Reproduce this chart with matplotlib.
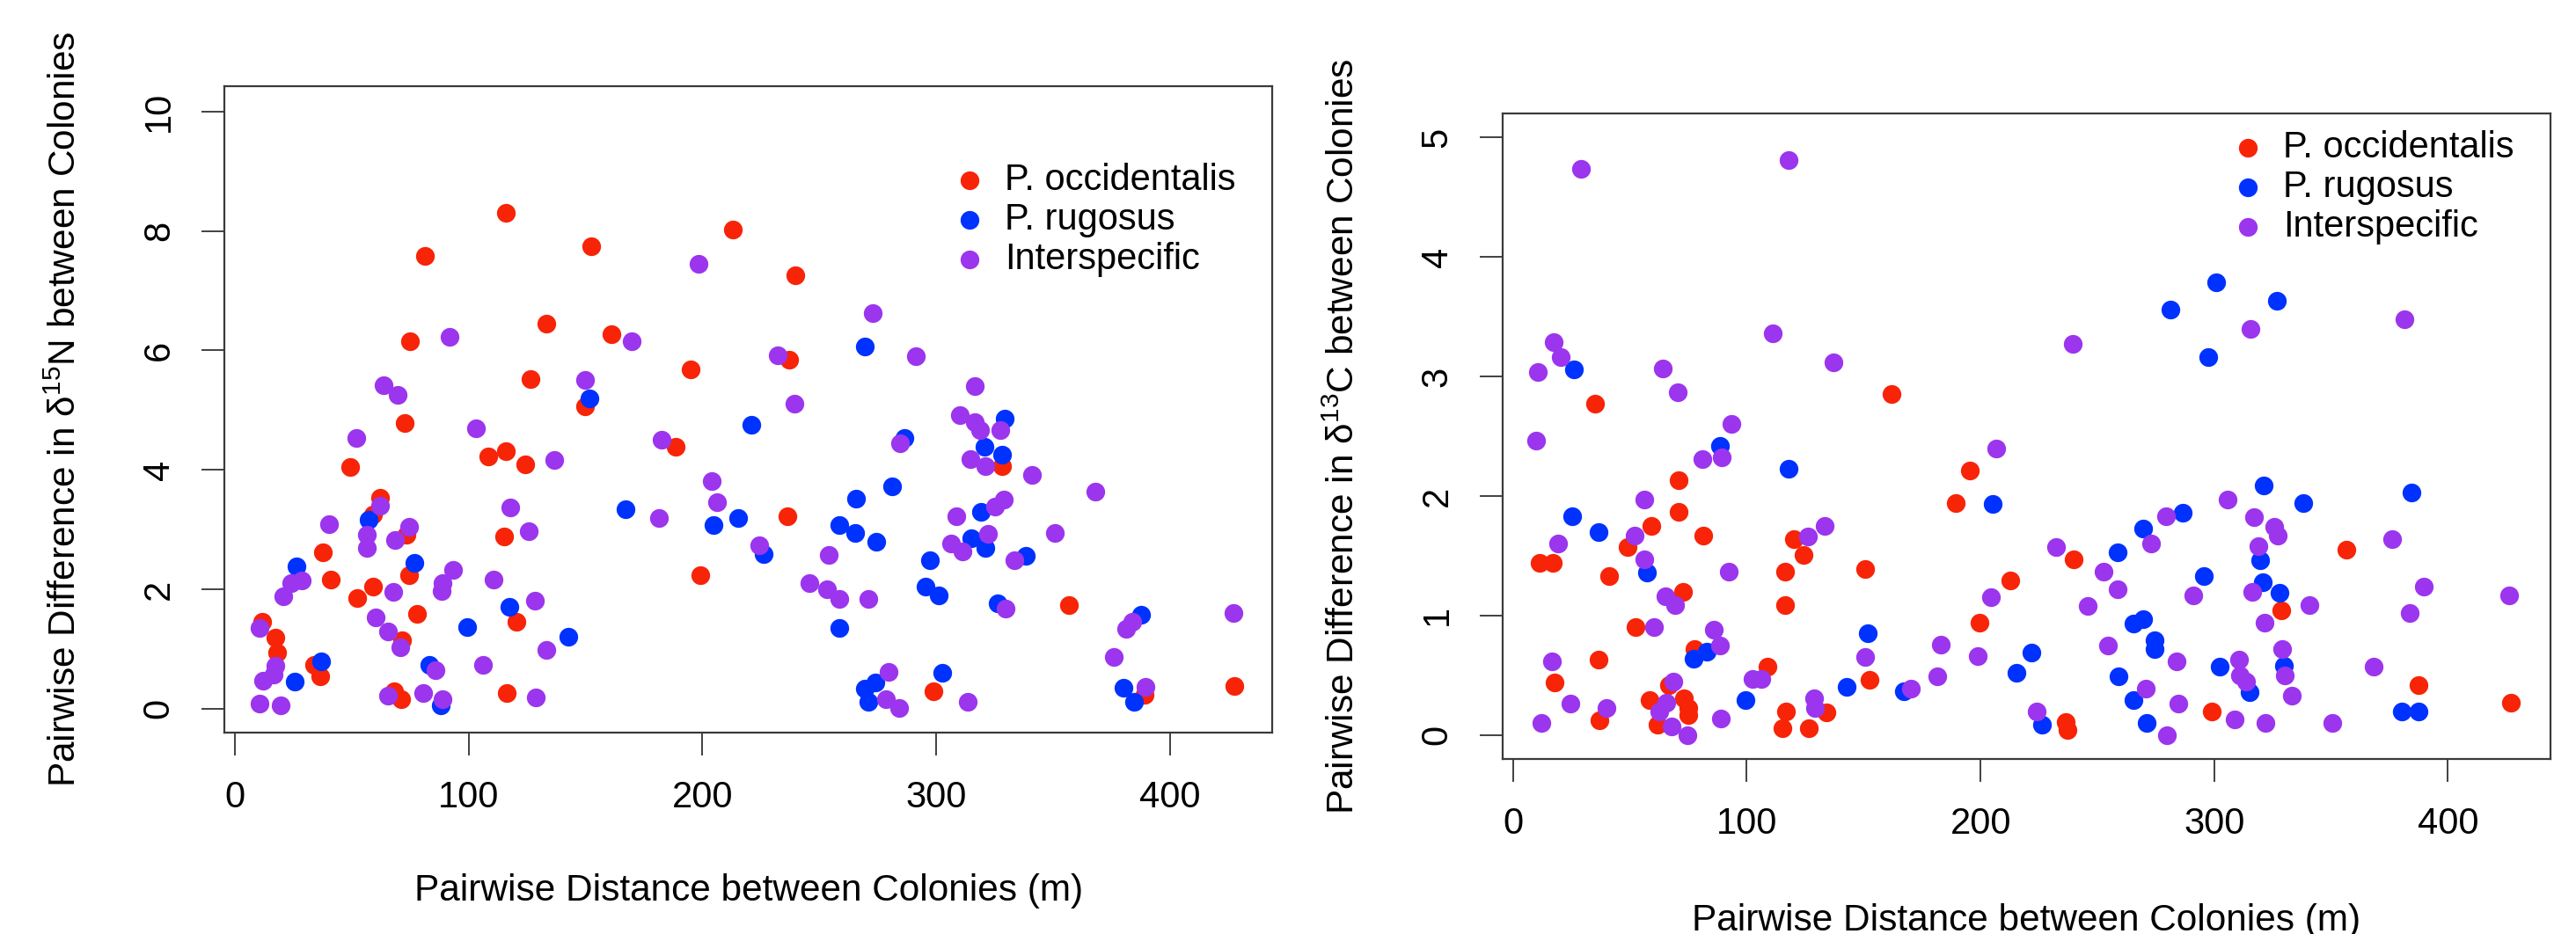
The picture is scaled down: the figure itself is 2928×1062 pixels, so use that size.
import matplotlib
matplotlib.use("Agg")
import matplotlib.pyplot as plt

plt.rcParams['font.family'] = ['Liberation Sans', 'DejaVu Sans']
plt.rcParams['mathtext.fontset'] = 'custom'
plt.rcParams['mathtext.rm'] = 'Liberation Sans'
plt.rcParams['mathtext.it'] = 'Liberation Sans'

# ---- delta 15N panel ----
n_occ_dist = [116.0, 81.3, 152.4, 212.9, 74.9, 133.4, 161.3, 195.1, 126.4, 150.0, 72.7, 108.4, 115.8,
              124.2, 49.4, 188.7, 62.3, 59.0, 73.6, 115.1, 37.5, 74.6, 41.2, 59.0, 52.3, 78.1, 120.4,
              71.4, 11.7, 17.4, 18.1, 33.8, 36.7, 116.3, 68.0, 71.2, 199.1, 239.9, 237.3, 328.4,
              236.4, 357.0, 299.1, 389.1, 427.5]
n_occ_diff = [8.31, 7.58, 7.75, 8.02, 6.15, 6.45, 6.27, 5.69, 5.52, 5.06, 4.79, 4.22, 4.32,
              4.09, 4.05, 4.39, 3.53, 3.26, 2.91, 2.89, 2.62, 2.23, 2.16, 2.05, 1.86, 1.59, 1.46,
              1.14, 1.46, 1.19, 0.94, 0.73, 0.55, 0.26, 0.30, 0.16, 2.23, 7.26, 5.84, 4.07,
              3.22, 1.74, 0.29, 0.23, 0.38]

n_rug_dist = [151.7, 220.8, 167.3, 204.8, 215.5, 226.1, 57.1, 76.9, 26.3, 117.5, 99.5, 142.6, 25.6,
              37.0, 83.3, 88.0, 269.7, 329.4, 286.6, 320.9, 328.4, 281.2, 265.7, 258.8, 265.5,
              274.6, 319.4, 315.2, 321.2, 338.4, 297.3, 295.5, 301.0, 326.4, 258.8, 387.6, 274.2,
              269.7, 270.9, 302.5, 380.1, 384.6]
n_rug_diff = [5.20, 4.76, 3.34, 3.08, 3.19, 2.59, 3.16, 2.44, 2.38, 1.70, 1.37, 1.21, 0.45,
              0.80, 0.73, 0.06, 6.07, 4.86, 4.54, 4.38, 4.25, 3.72, 3.52, 3.07, 2.95,
              2.79, 3.29, 2.86, 2.69, 2.56, 2.49, 2.04, 1.90, 1.76, 1.35, 1.57, 0.44,
              0.33, 0.12, 0.60, 0.35, 0.12]

n_int_dist = [198.5, 91.9, 169.8, 63.8, 69.7, 150.0, 52.0, 103.2, 136.7, 182.7, 204.0, 206.2, 181.3,
              224.2, 62.3, 40.1, 56.5, 56.5, 74.6, 68.7, 117.8, 125.6, 28.8, 24.1, 20.7, 67.7,
              93.2, 88.8, 88.3, 110.8, 128.2, 60.2, 65.4, 70.9, 133.1, 10.4, 17.4, 12.2, 16.7,
              85.8, 106.2, 128.9, 10.4, 19.6, 65.4, 80.6, 88.8, 273.0, 232.4, 291.3, 316.7,
              239.4, 310.3, 316.7, 319.0, 327.5, 284.6, 314.9, 321.2, 341.0, 368.2, 254.3,
              329.0, 325.4, 308.8, 350.7, 322.4, 306.3, 311.5, 333.4, 245.8, 253.3, 258.5,
              270.9, 329.9, 383.9, 381.2, 376.1, 427.2, 279.7, 278.7, 284.2, 313.7, 389.6]
n_int_diff = [7.45, 6.23, 6.15, 5.42, 5.26, 5.50, 4.53, 4.70, 4.17, 4.50, 3.81, 3.46, 3.19,
              2.74, 3.40, 3.09, 2.91, 2.70, 3.05, 2.82, 3.37, 2.97, 2.15, 2.10, 1.88, 1.96,
              2.33, 2.10, 1.97, 2.16, 1.81, 1.53, 1.30, 1.03, 0.98, 1.36, 0.72, 0.47, 0.57,
              0.64, 0.73, 0.19, 0.09, 0.06, 0.22, 0.26, 0.16, 6.63, 5.92, 5.90, 5.40,
              5.11, 4.92, 4.80, 4.67, 4.67, 4.45, 4.18, 4.06, 3.92, 3.64, 2.57,
              3.50, 3.38, 3.23, 2.95, 2.93, 2.76, 2.64, 2.49, 2.11, 2.00, 1.84,
              1.84, 1.68, 1.46, 1.34, 0.86, 1.60, 0.61, 0.16, 0.02, 0.11, 0.36]

# ---- delta 13C panel ----
c_occ_dist = [35.2, 161.9, 70.9, 70.9, 59.1, 81.3, 49.0, 11.3, 17.0, 41.2, 72.8, 52.4, 77.6, 36.5,
              17.7, 37.0, 58.3, 66.8, 73.2, 74.8, 74.8, 61.7, 108.7, 116.4, 116.4, 120.3, 124.4,
              150.7, 152.7, 116.7, 134.2, 115.3, 126.4, 199.7, 195.4, 189.4, 212.8, 239.8, 328.6,
              356.7, 387.5, 426.9, 236.4, 237.2, 298.9]
c_occ_diff = [2.77, 2.85, 2.13, 1.87, 1.75, 1.67, 1.57, 1.44, 1.44, 1.33, 1.20, 0.90, 0.72, 0.63,
              0.44, 0.12, 0.29, 0.42, 0.31, 0.23, 0.17, 0.09, 0.57, 1.37, 1.09, 1.64, 1.51,
              1.39, 0.46, 0.20, 0.19, 0.06, 0.06, 0.94, 2.21, 1.94, 1.29, 1.47, 1.04,
              1.55, 0.42, 0.27, 0.11, 0.04, 0.20]

c_rug_dist = [26.2, 88.4, 117.7, 25.4, 36.7, 57.1, 83.0, 77.1, 99.5, 151.9, 142.9, 167.3, 205.4,
              258.6, 269.5, 286.7, 321.1, 338.0, 384.4, 319.5, 295.6, 320.8, 328.1, 265.6, 269.5,
              274.5, 274.5, 221.6, 215.3, 259.1, 265.6, 302.3, 315.3, 329.7, 380.2, 387.5, 226.3,
              271.1, 300.8, 281.3, 326.9, 297.3]
c_rug_diff = [3.06, 2.42, 2.23, 1.83, 1.70, 1.36, 0.70, 0.64, 0.29, 0.85, 0.40, 0.37, 1.93,
              1.53, 1.73, 1.86, 2.09, 1.94, 2.03, 1.46, 1.33, 1.28, 1.19, 0.93, 0.97,
              0.79, 0.72, 0.69, 0.52, 0.49, 0.29, 0.57, 0.36, 0.58, 0.20, 0.20, 0.09,
              0.10, 3.79, 3.56, 3.63, 3.16]

c_int_dist = [29.0, 118.0, 17.3, 20.5, 10.5, 64.0, 70.6, 111.0, 137.2, 10.0, 93.3, 81.0, 89.4, 56.3,
              52.0, 19.3, 56.3, 92.1, 65.1, 69.4, 60.1, 85.9, 88.7, 16.5, 24.4, 40.1, 12.0, 65.5,
              62.4, 68.6, 67.8, 74.5, 89.0, 102.5, 106.1, 126.0, 133.4, 150.7, 128.8, 129.1, 170.4,
              181.6, 183.0, 198.9, 204.6, 206.6, 232.5, 252.8, 258.6, 245.8, 273.1, 279.2, 305.9,
              316.9, 325.5, 327.3, 319.1, 291.1, 316.4, 340.9, 321.4, 376.1, 389.5, 383.6, 426.3,
              254.4, 283.9, 270.8, 284.8, 310.5, 310.9, 313.8, 328.9, 330.2, 333.3, 368.3, 224.2,
              279.7, 308.6, 321.9, 350.5, 315.6, 381.3, 239.5]
c_int_diff = [4.74, 4.81, 3.29, 3.16, 3.04, 3.07, 2.87, 3.36, 3.12, 2.46, 2.60, 2.31, 2.32, 1.97,
              1.67, 1.60, 1.47, 1.37, 1.16, 1.09, 0.90, 0.88, 0.75, 0.62, 0.26, 0.23, 0.10, 0.27,
              0.20, 0.45, 0.07, 0.00, 0.14, 0.47, 0.47, 1.66, 1.75, 0.65, 0.31, 0.23, 0.39,
              0.49, 0.76, 0.66, 1.15, 2.40, 1.57, 1.37, 1.22, 1.08, 1.60, 1.83, 1.97,
              1.82, 1.74, 1.67, 1.58, 1.17, 1.20, 1.09, 0.94, 1.64, 1.24, 1.02, 1.17,
              0.75, 0.62, 0.39, 0.26, 0.63, 0.50, 0.45, 0.72, 0.50, 0.33, 0.57, 0.20,
              0.00, 0.13, 0.10, 0.10, 3.40, 3.48, 3.27]

labels = ["P. occidentalis", "P. rugosus", "Interspecific"]
colors = ["#F82408", "#0032FF", "#9C35EE"]

fig = plt.figure(figsize=(29.28, 10.62), dpi=100)
ax1 = fig.add_axes([0.0871, 0.2156, 0.4068, 0.6918])
ax2 = fig.add_axes([0.5833, 0.1874, 0.4068, 0.6911])

panels = [
    (ax1, [(n_occ_dist, n_occ_diff), (n_rug_dist, n_rug_diff), (n_int_dist, n_int_diff)],
     r"Pairwise Difference in δ$^{15}$N between Colonies", (-0.4, 10.42), [0, 2, 4, 6, 8, 10],
     -0.245, 0.882),
    (ax2, [(c_occ_dist, c_occ_diff), (c_rug_dist, c_rug_diff), (c_int_dist, c_int_diff)],
     r"Pairwise Difference in δ$^{13}$C between Colonies", (-0.2, 5.2), [0, 1, 2, 3, 4, 5],
     -0.251, 0.974),
]

for ax, series, ylab, ylim, yticks, xlab_y, leg_top in panels:
    for (xs, ys), lab, col in zip(series, labels, colors):
        ax.scatter(xs, ys, s=235, color=col, linewidths=0, label=lab)
    ax.set_xlim(-4.5, 443.9)
    ax.set_ylim(*ylim)
    ax.set_xticks([0, 100, 200, 300, 400])
    ax.set_yticks(yticks)
    ax.tick_params(direction='out', length=19, width=1.3, color='#333333',
                   labelsize=30, pad=20)
    for lbl in ax.get_yticklabels():
        lbl.set_rotation(90)
        lbl.set_va('center')
    for sp in ax.spines.values():
        sp.set_linewidth(1.6)
        sp.set_color('#3a3a3a')
    ax.set_xlabel("Pairwise Distance between Colonies (m)", fontsize=30.5, va='center')
    ax.xaxis.set_label_coords(0.5, xlab_y)
    ax.set_ylabel(ylab, fontsize=30.5, va='center')
    ax.yaxis.set_label_coords(-0.151, 0.5)
    ax.legend(loc='upper left', bbox_to_anchor=(0.694, leg_top), frameon=False,
              fontsize=30, handlelength=1.0, handletextpad=0.45, labelspacing=0.12,
              borderpad=0, borderaxespad=0, scatterpoints=1)

fig.savefig("out.png", dpi=100)
